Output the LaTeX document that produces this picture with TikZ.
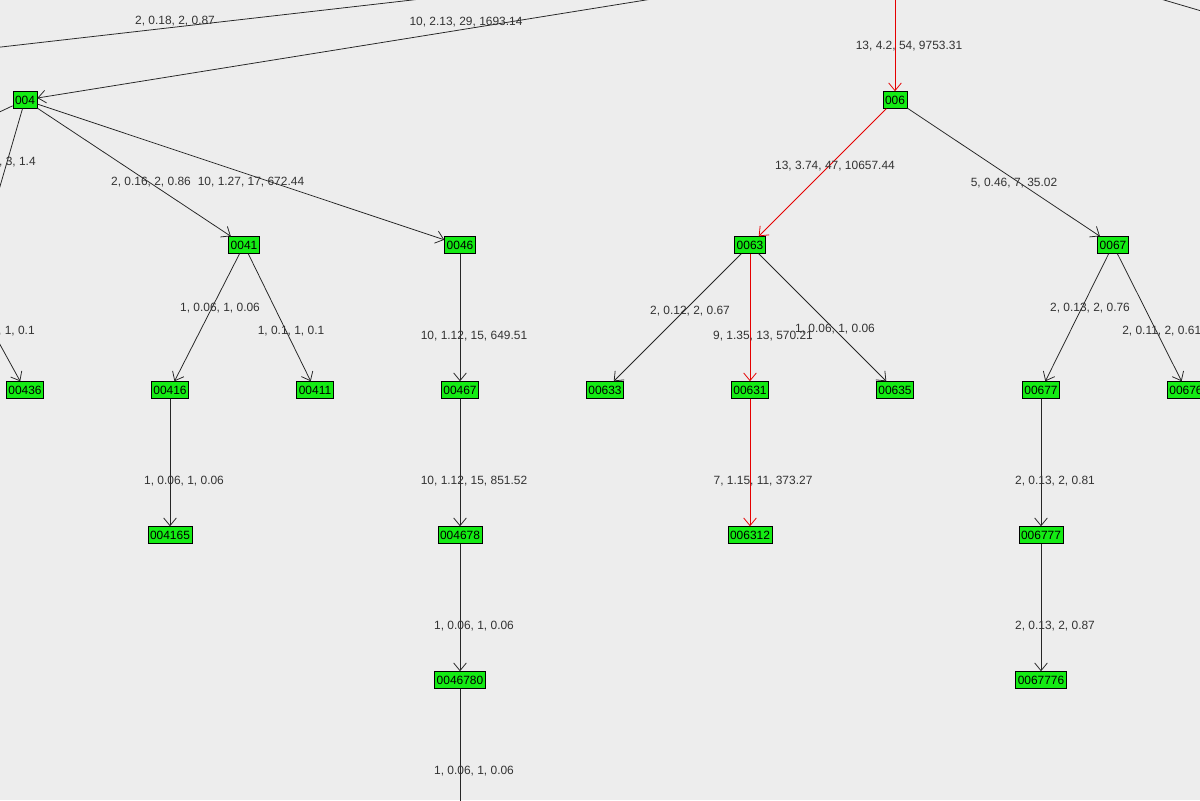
\documentclass[tikz,border=0pt]{standalone}
\usepackage{fontspec}
\setmainfont{Liberation Sans}
\usetikzlibrary{arrows.meta}
\begin{document}
\begin{tikzpicture}[x=0.025cm,y=-0.025cm,
  nd/.style={draw=black,fill={rgb,255:red,20;green,235;blue,20},font=\fontsize{8.5}{10}\selectfont,inner xsep=1.5pt,inner ysep=1pt,minimum height=12pt},
  ed/.style={draw=black!85,line width=0.55pt,-{Straight Barb[length=5.5pt,width=9pt]}},
  ln/.style={draw=black!85,line width=0.55pt},
  red/.style={draw=red!90!black},
  lb/.style={font=\fontsize{8.5}{10}\selectfont,text=black!80,inner sep=0pt}]
\fill[black!7] (0,0) rectangle (1200,800);
\useasboundingbox (0,0) rectangle (1200,800);
\clip (0,0) rectangle (1200,800);
\coordinate (P) at (1217,-92);
\coordinate (L1) at (-200,70);
\coordinate (Pr) at (895,-60);
\coordinate (R0) at (1130,-10);
\coordinate (R1) at (1300,40);
\coordinate (Q) at (-60,140);
\coordinate (Q3) at (-30,290);
\coordinate (B) at (460,860);
\node[nd] (004) at (25,100) {004};
\node[nd] (006) at (895,100) {006};
\node[nd] (0041) at (244,245) {0041};
\node[nd] (0046) at (460,245) {0046};
\node[nd] (0063) at (750,245) {0063};
\node[nd] (0067) at (1113,245) {0067};
\node[nd] (00436) at (25,390) {00436};
\node[nd] (00416) at (170,390) {00416};
\node[nd] (00411) at (315,390) {00411};
\node[nd] (00467) at (460,390) {00467};
\node[nd] (00633) at (605,390) {00633};
\node[nd] (00631) at (750,390) {00631};
\node[nd] (00635) at (895,390) {00635};
\node[nd] (00677) at (1041,390) {00677};
\node[nd] (00676) at (1186,390) {00676};
\node[nd] (004165) at (170,535) {004165};
\node[nd] (004678) at (460,535) {004678};
\node[nd] (006312) at (750,535) {006312};
\node[nd] (006777) at (1041,535) {006777};
\node[nd] (0046780) at (460,680) {0046780};
\node[nd] (0067776) at (1041,680) {0067776};
\draw[ln] (P) -- (L1);
\draw[ed] (P) -- (004);
\draw[ed,red] (Pr) -- (006);
\draw[ln] (R0) -- (R1);
\draw[ln] (004) -- (Q);
\draw[ln] (004) -- (Q3);
\draw[ed] (Q3) -- (00436);
\draw[ed] (004) -- (0041);
\draw[ed] (004) -- (0046);
\draw[ed,red] (006) -- (0063);
\draw[ed] (006) -- (0067);
\draw[ed] (0041) -- (00416);
\draw[ed] (0041) -- (00411);
\draw[ed] (0046) -- (00467);
\draw[ed] (0063) -- (00633);
\draw[ed,red] (0063) -- (00631);
\draw[ed] (0063) -- (00635);
\draw[ed] (0067) -- (00677);
\draw[ed] (0067) -- (00676);
\draw[ed] (00416) -- (004165);
\draw[ed] (00467) -- (004678);
\draw[ed,red] (00631) -- (006312);
\draw[ed] (00677) -- (006777);
\draw[ed] (004678) -- (0046780);
\draw[ed] (006777) -- (0067776);
\draw[ln] (0046780) -- (B);
\node[lb] at (175,21) {2, 0.18, 2, 0.87};
\node[lb] at (466,22) {10, 2.13, 29, 1693.14};
\node[lb] at (909,46) {13, 4.2, 54, 9753.31};
\node[lb,anchor=east] at (36,162) {, 3, 1.4};
\node[lb] at (151,182) {2, 0.16, 2, 0.86};
\node[lb] at (251,182) {10, 1.27, 17, 672.44};
\node[lb] at (835,166) {13, 3.74, 47, 10657.44};
\node[lb] at (1014,183) {5, 0.46, 7, 35.02};
\node[lb] at (220,308) {1, 0.06, 1, 0.06};
\node[lb] at (291,331) {1, 0.1, 1, 0.1};
\node[lb,anchor=east] at (35,331) {, 1, 0.1};
\node[lb] at (474,336) {10, 1.12, 15, 649.51};
\node[lb] at (690,311) {2, 0.12, 2, 0.67};
\node[lb] at (763,336) {9, 1.35, 13, 570.21};
\node[lb] at (835,329) {1, 0.06, 1, 0.06};
\node[lb] at (1090,308) {2, 0.13, 2, 0.76};
\node[lb,anchor=west] at (1122,331) {2, 0.11, 2, 0.61};
\node[lb] at (184,481) {1, 0.06, 1, 0.06};
\node[lb] at (474,481) {10, 1.12, 15, 851.52};
\node[lb] at (763,481) {7, 1.15, 11, 373.27};
\node[lb] at (1055,481) {2, 0.13, 2, 0.81};
\node[lb] at (474,626) {1, 0.06, 1, 0.06};
\node[lb] at (1055,626) {2, 0.13, 2, 0.87};
\node[lb] at (474,771) {1, 0.06, 1, 0.06};
\end{tikzpicture}
\end{document}
